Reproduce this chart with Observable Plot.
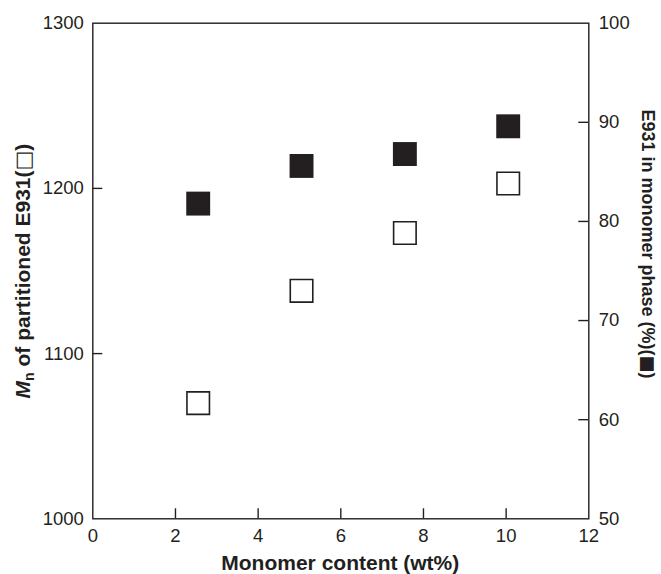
<!DOCTYPE html>
<html>
<head>
<meta charset="utf-8">
<script src="https://cdn.jsdelivr.net/npm/d3@7"></script>
<script src="https://cdn.jsdelivr.net/npm/@observablehq/plot@0.6"></script>
<style>
  body { margin: 0; background: #fff; }
  #chart svg { display: block; }
</style>
</head>
<body>
<div id="chart"></div>
<script>
// Monomer content (wt%) of each sample
const monomerContent = [2.55, 5.05, 7.55, 10.05];
// Mn of the partitioned E931 (left axis, open squares)
const mnPartitioned = [1070, 1138, 1173, 1203];
// Share of E931 found in the monomer phase, % (right axis, filled squares)
const e931InMonomer = [81.8, 85.6, 86.8, 89.6];

const xTicks = [0, 2, 4, 6, 8, 10, 12];
const leftTicks = [1000, 1100, 1200, 1300];
const rightTicks = [50, 60, 70, 80, 90, 100];

const W = 661, H = 574;
const margin = {top: 22.7, right: 72.7, bottom: 55.7, left: 92.3};
const xDomain = [0, 12];
const leftDomain = [1000, 1300];
const rightDomain = [50, 100];
const ink = "#231f20";
const font = "'Liberation Sans', Arial, Helvetica, sans-serif";
const boxFont = "'DejaVu Sans', sans-serif";

// the right axis shares the plot's y scale through a linear mapping
const k = (leftDomain[1] - leftDomain[0]) / (rightDomain[1] - rightDomain[0]);
const toLeft = v => leftDomain[0] + (v - rightDomain[0]) * k;
const fromLeft = u => rightDomain[0] + (u - leftDomain[0]) / k;

// inward tick marks, 10px long, expressed in data units
const tickPx = 10;
const plotW = W - margin.left - margin.right;
const plotH = H - margin.top - margin.bottom;
const tx = tickPx * (xDomain[1] - xDomain[0]) / plotW;
const ty = tickPx * (leftDomain[1] - leftDomain[0]) / plotH;

const rows = monomerContent.map((x, i) => ({x, mn: mnPartitioned[i], share: toLeft(e931InMonomer[i])}));
const inner = a => a.slice(1, -1);

const plot = Plot.plot({
  width: W,
  height: H,
  marginTop: margin.top,
  marginRight: margin.right,
  marginBottom: margin.bottom,
  marginLeft: margin.left,
  x: {domain: xDomain},
  y: {domain: leftDomain},
  style: {fontFamily: font, fontSize: "18.5px", color: ink, background: "#fff"},
  marks: [
    // tick labels
    Plot.axisX(xTicks, {tickSize: 0, tickPadding: 10, label: null, fontSize: 18.5, tickFormat: d => String(d)}),
    Plot.axisY(leftTicks, {anchor: "left", tickSize: 0, tickPadding: 9, label: null, fontSize: 18.5, tickFormat: d => String(d)}),
    Plot.axisY(rightTicks.map(toLeft), {
      anchor: "right", tickSize: 0, tickPadding: 10, label: null, fontSize: 18.5,
      tickFormat: d => String(Math.round(fromLeft(d)))
    }),
    // inward tick marks
    Plot.ruleX(inner(xTicks), {x: d => d, y1: leftDomain[0], y2: leftDomain[0] + ty, stroke: ink, strokeWidth: 1.4}),
    Plot.ruleY(inner(leftTicks), {y: d => d, x1: xDomain[0], x2: xDomain[0] + tx, stroke: ink, strokeWidth: 1.4}),
    Plot.ruleY(inner(rightTicks).map(toLeft), {y: d => d, x1: xDomain[1] - tx, x2: xDomain[1], stroke: ink, strokeWidth: 1.4}),
    Plot.frame({stroke: ink, strokeWidth: 1.4}),
    // data
    Plot.dot(rows, {x: "x", y: "mn", symbol: "square", r: 12.7, fill: "#fff", stroke: ink, strokeWidth: 1.6}),
    Plot.dot(rows, {x: "x", y: "share", symbol: "square", r: 13.5, fill: ink, stroke: "none"})
  ]
});

document.getElementById("chart").append(plot);

// axis titles
const svg = d3.select(plot);
const titleStyle = (t, size) => t.attr("font-family", font).attr("font-weight", "bold").attr("font-size", size).attr("fill", ink);

svg.append("text")
  .call(titleStyle, 21)
  .attr("x", (margin.left + W - margin.right) / 2)
  .attr("y", 570)
  .attr("text-anchor", "middle")
  .text("Monomer content (wt%)");

const left = svg.append("text")
  .call(titleStyle, 21)
  .attr("text-anchor", "middle")
  .attr("transform", "translate(29.5,271) rotate(-90)");
left.append("tspan").attr("font-style", "italic").text("M");
left.append("tspan").attr("font-size", 14).attr("dy", 4).text("n");
left.append("tspan").attr("dy", -4).text(" of partitioned E931(");
left.append("tspan").attr("font-family", boxFont).attr("font-weight", "normal").text("\u25A1");
left.append("tspan").text(")");

const right = svg.append("text")
  .call(titleStyle, 18)
  .attr("text-anchor", "middle")
  .attr("transform", "translate(642,244) rotate(90)");
right.append("tspan").text("E931 in monomer phase (%)(");
right.append("tspan").attr("font-family", boxFont).text("\u25A0");
right.append("tspan").text(")");
</script>
</body>
</html>
